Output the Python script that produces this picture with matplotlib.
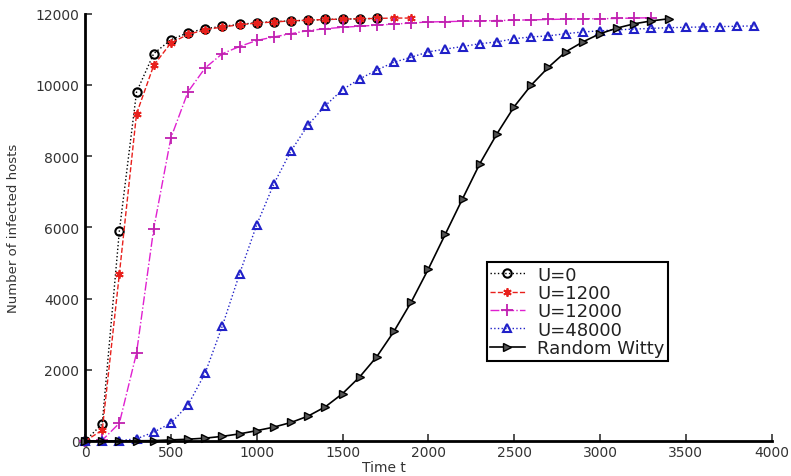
import numpy as np
import matplotlib.pyplot as plt

plt.rcParams['font.family'] = ['DejaVu Sans']

# time axis, one marker every 100 time units
t_u0 = np.arange(0, 1800, 100)
u0 = [0, 480, 5900, 9800, 10880, 11270, 11470, 11580, 11650, 11700,
      11750, 11780, 11800, 11820, 11840, 11850, 11860, 11870]

t_u1200 = np.arange(0, 2000, 100)
u1200 = [0, 300, 4690, 9190, 10550, 11180, 11420, 11550, 11630, 11690,
         11740, 11770, 11800, 11820, 11840, 11850, 11860, 11870, 11880, 11880]

t_u12000 = np.arange(0, 3400, 100)
u12000 = [0, 20, 500, 2470, 5960, 8510, 9810, 10480, 10880, 11080,
          11250, 11350, 11440, 11530, 11580, 11620, 11650, 11680, 11710, 11740,
          11770, 11780, 11790, 11800, 11810, 11820, 11830, 11840, 11850, 11860,
          11860, 11870, 11880, 11890]

t_u48000 = np.arange(0, 4000, 100)
u48000 = [0, 0, 10, 60, 250, 500, 1010, 1910, 3230, 4690,
          6070, 7220, 8150, 8880, 9420, 9870, 10170, 10420, 10640, 10780,
          10930, 11010, 11080, 11160, 11210, 11300, 11350, 11380, 11440, 11490,
          11520, 11550, 11570, 11590, 11610, 11620, 11630, 11640, 11650, 11660]

t_witty = np.arange(0, 3500, 100)
witty = [0, 0, 0, 5, 10, 30, 50, 80, 130, 200,
         290, 390, 520, 700, 960, 1330, 1800, 2370, 3080, 3900,
         4830, 5820, 6810, 7790, 8630, 9390, 10000, 10500, 10930, 11210,
         11440, 11600, 11720, 11800, 11860]

fig = plt.figure(figsize=(7.91, 4.77), dpi=100)
ax = fig.add_axes([0.1075, 0.0734, 0.868, 0.8956])

ms = 6
ax.plot(t_u0, u0, ':', color='k', marker='o', mfc='none', mec='k', mew=1.5,
        ms=ms, lw=1.0, label='U=0', clip_on=False)
ax.plot(t_u1200, u1200, '--', color='#e8201c', marker=(6, 2, 0), mec='#e8201c',
        mew=1.3, ms=ms, lw=1.0, label='U=1200', clip_on=False)
ax.plot(t_u12000, u12000, '-.', color='#e020d0', marker='+', mec='#c020b0',
        mew=1.3, ms=ms + 2, lw=1.0, label='U=12000', clip_on=False)
ax.plot(t_u48000, u48000, ':', color='#2020c8', marker='^', mfc='none', mec='#2020c8',
        mew=1.5, ms=ms, lw=1.0, label='U=48000', clip_on=False)
ax.plot(t_witty, witty, '-', color='k', marker='>', mfc='#555555', mec='k',
        mew=1.0, ms=ms, lw=1.2, label='Random Witty', clip_on=False)

ax.set_xlim(0, 4000)
ax.set_ylim(0, 12000)
ax.set_xticks(np.arange(0, 4001, 500))
ax.set_yticks(np.arange(0, 12001, 2000))

for side in ('top', 'right'):
    ax.spines[side].set_visible(False)
for side in ('left', 'bottom'):
    ax.spines[side].set_linewidth(2)
ax.tick_params(direction='in', length=5, width=1.2, labelsize=10, colors='#333333')
ax.tick_params(axis='y', pad=4)
ax.tick_params(axis='x', pad=3)

ax.set_xlabel('Time t', fontsize=10, labelpad=0, color='#333333')
ax.xaxis.set_label_coords(0.436, -0.045)
ax.set_ylabel('Number of infected hosts', fontsize=9.5, labelpad=11, color='#333333')

leg = ax.legend(loc='upper left', bbox_to_anchor=(0.585, 0.419), fontsize=13,
                frameon=True, fancybox=False, framealpha=1, borderpad=0.2,
                labelspacing=0.02, handlelength=1.9, handletextpad=0.7,
                borderaxespad=0)
leg.get_frame().set_edgecolor('k')
leg.get_frame().set_linewidth(1.5)
for txt in leg.get_texts():
    txt.set_color('#222222')

fig.savefig('out.png', dpi=100)
